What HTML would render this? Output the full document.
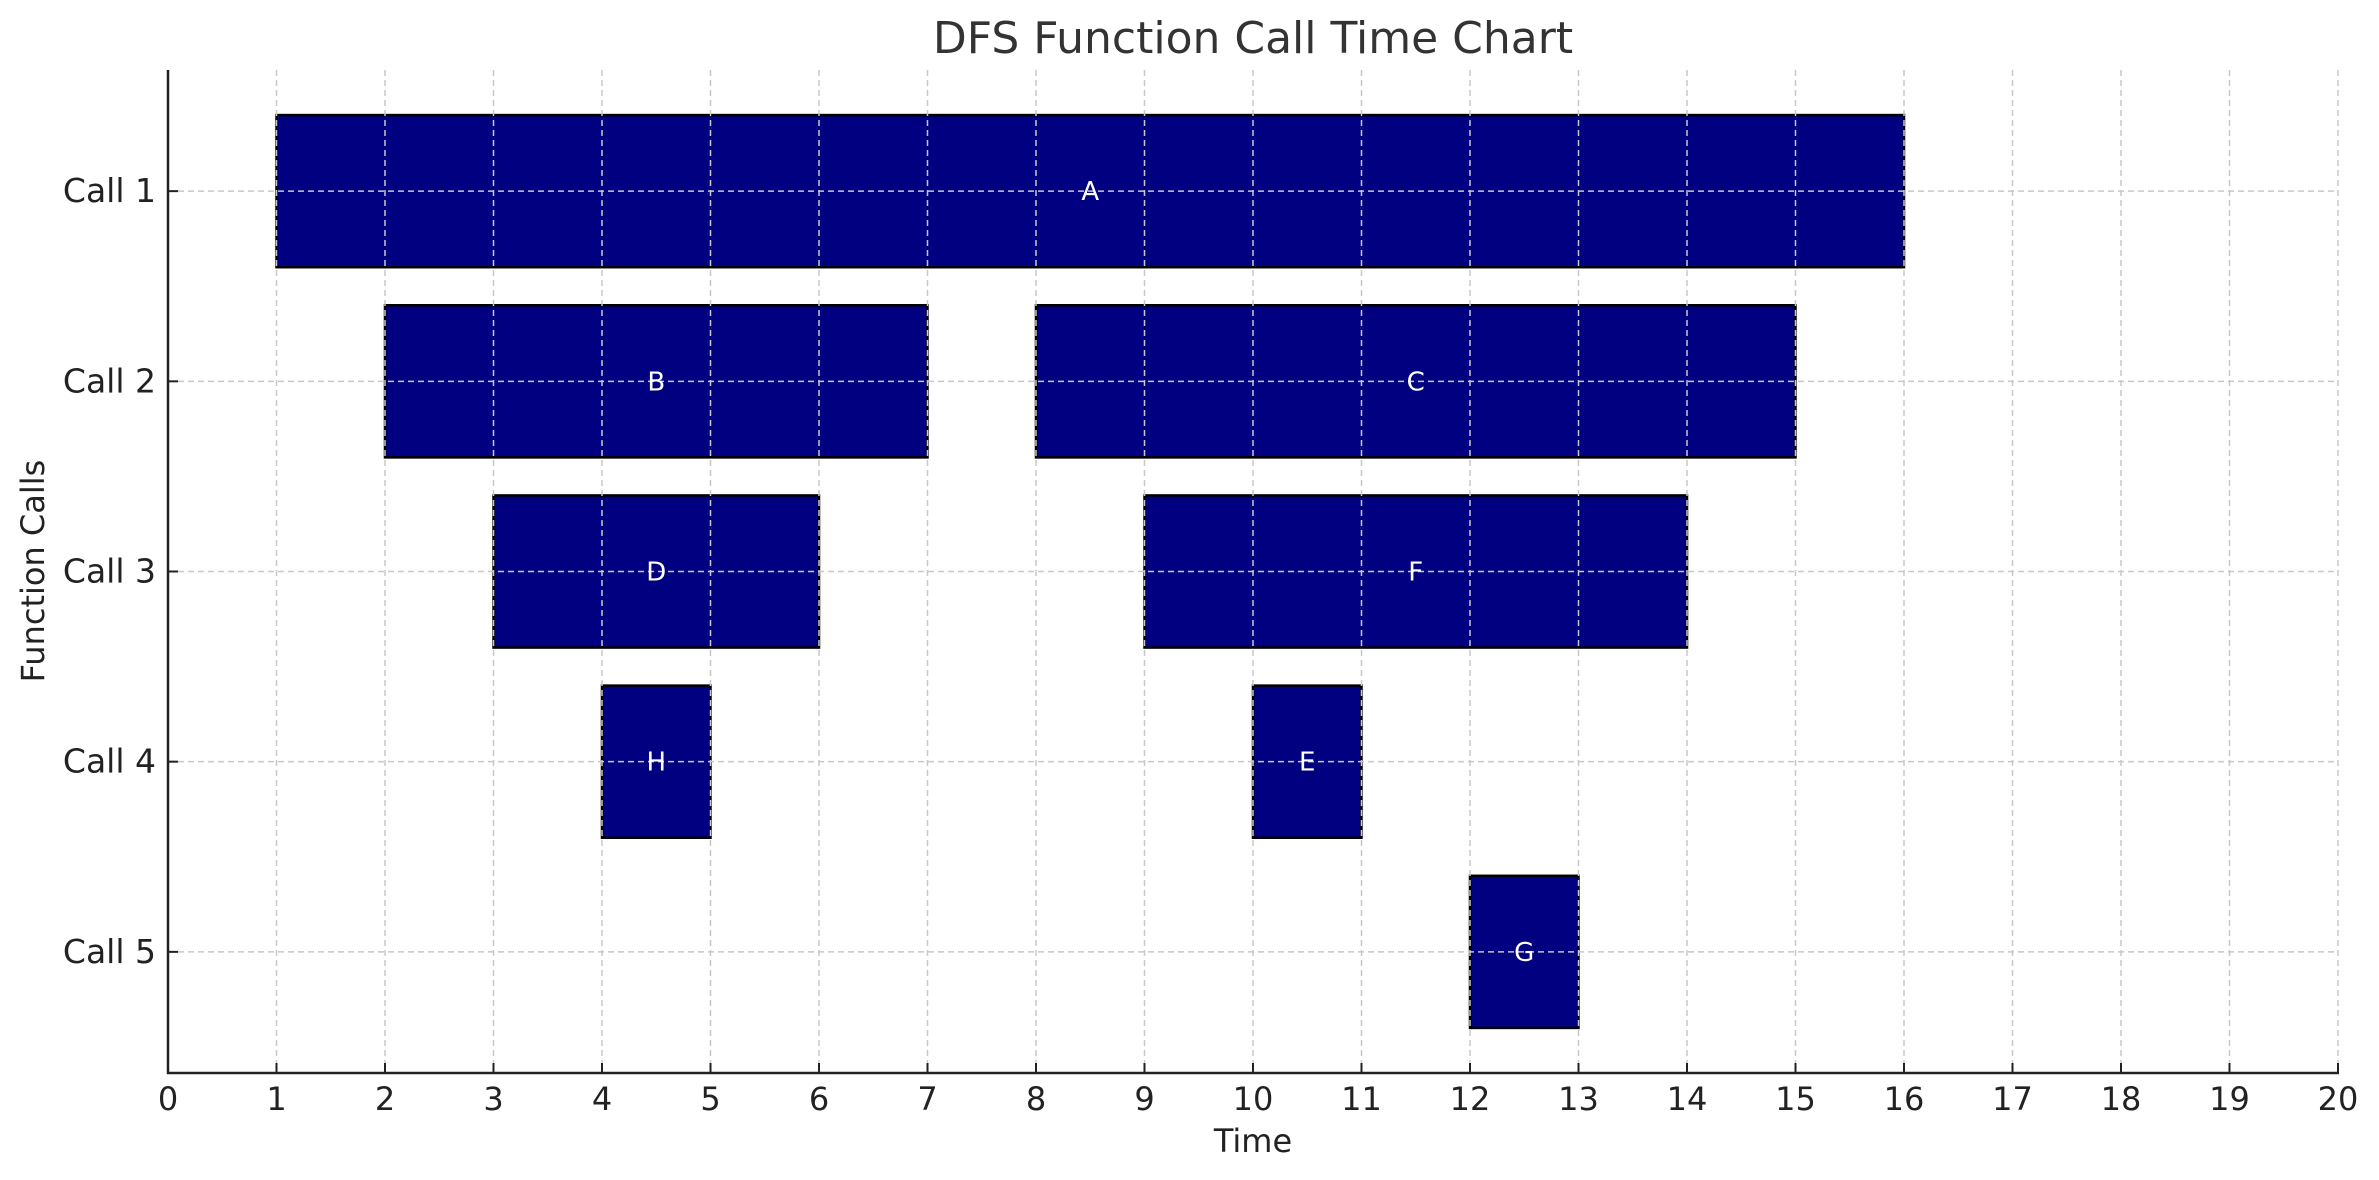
<!DOCTYPE html>
<html><head><meta charset="utf-8"><style>
html,body{margin:0;padding:0;background:#fff;}
svg{display:block;font-family:"DejaVu Sans","Liberation Sans",sans-serif;}
</style></head><body>
<svg id="chart" width="2379" height="1180" viewBox="0 0 2379 1180" xmlns="http://www.w3.org/2000/svg">
<rect width="2379" height="1180" fill="#fff"/>
<text x="1253" y="53" text-anchor="middle" font-size="44" fill="#333">DFS Function Call Time Chart</text>
<g id="bars"></g>
<g id="grid"></g>
<g id="labels"></g>
<g id="axes"></g>
<text x="1253" y="1152" text-anchor="middle" font-size="32" fill="#222">Time</text>
<text transform="translate(44,571) rotate(-90)" text-anchor="middle" font-size="32" fill="#222">Function Calls</text>
</svg>
<script>
const categories = ["Call 1","Call 2","Call 3","Call 4","Call 5"];
const taskNames = ["A","B","C","D","F","H","E","G"];
const taskLevels = [0,1,1,2,2,3,3,4];
const taskStarts = [1,2,8,3,9,4,10,12];
const taskEnds = [16,7,15,6,14,5,11,13];
const xTicks = [0,1,2,3,4,5,6,7,8,9,10,11,12,13,14,15,16,17,18,19,20];

const NS = "http://www.w3.org/2000/svg";
const L=168, R=2338, T=70, B=1073;
const xMin=0, xMax=20;
const x = v => L + (v - xMin) / (xMax - xMin) * (R - L);
const yTop=-0.637, yBot=4.637;
const y = v => T + (v - yTop) / (yBot - yTop) * (B - T);
const bandH = 0.8;
function mk(tag, attrs, parent){const e=document.createElementNS(NS,tag);for(const k in attrs)e.setAttribute(k,attrs[k]);parent.appendChild(e);return e;}
const gBars=document.getElementById('bars'),gGrid=document.getElementById('grid'),gLab=document.getElementById('labels'),gAx=document.getElementById('axes');

taskNames.forEach((n,i)=>{
  const x0=x(taskStarts[i]), x1=x(taskEnds[i]);
  const y0=y(taskLevels[i]-bandH/2), y1=y(taskLevels[i]+bandH/2);
  const r=mk('rect',{x:x0,y:y0,width:x1-x0,height:y1-y0,fill:'#000080',stroke:'#000','stroke-width':2.5},gBars);
  
  
  const t=mk('text',{x:(x0+x1)/2,y:y(taskLevels[i])+9,'text-anchor':'middle','font-size':26,fill:'#fff'},gLab);
  t.textContent=n;
  
  
});

xTicks.forEach(v=>{
  const l=mk('line',{x1:x(v),x2:x(v),y1:T,y2:B,stroke:'#c8c8c8','stroke-width':1.5,'stroke-dasharray':'6,4'},gGrid);
  
  
  mk('line',{x1:x(v),x2:x(v),y1:B,y2:B-10,stroke:'#222','stroke-width':2},gAx);
  const t=mk('text',{x:x(v),y:B+37,'text-anchor':'middle','font-size':32,fill:'#222'},gAx);
  t.textContent=v;
  
  
});
categories.forEach((c,i)=>{
  const l=mk('line',{x1:L,x2:R,y1:y(i),y2:y(i),stroke:'#c8c8c8','stroke-width':1.5,'stroke-dasharray':'6,4'},gGrid);
  
  
  mk('line',{x1:L,x2:L+10,y1:y(i),y2:y(i),stroke:'#222','stroke-width':2},gAx);
  const t=mk('text',{x:L-12,y:y(i)+11,'text-anchor':'end','font-size':33,fill:'#222'},gAx);
  t.textContent=c;
  
  
});
const ax1=mk('line',{x1:L,x2:L,y1:T,y2:B+1,stroke:'#222','stroke-width':2.5},gAx);


const ax2=mk('line',{x1:L-1,x2:R+1,y1:B,y2:B,stroke:'#222','stroke-width':2.5},gAx);


</script>
</body></html>
